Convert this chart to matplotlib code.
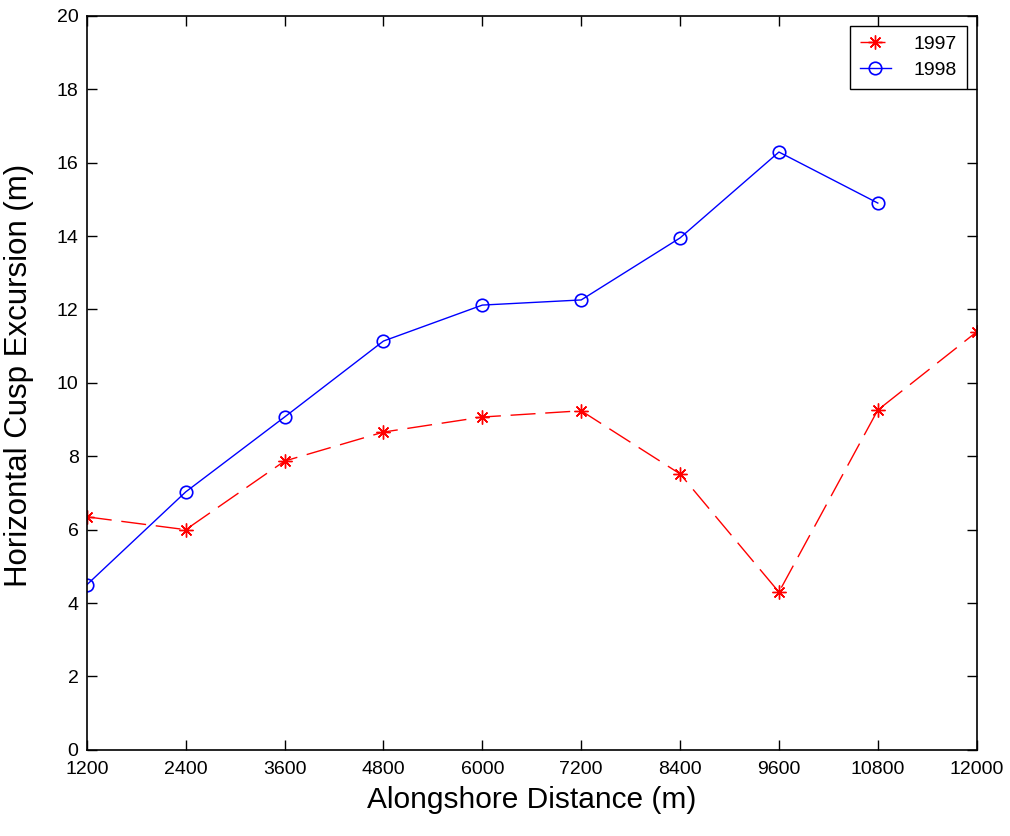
import matplotlib
matplotlib.use("Agg")
import matplotlib.pyplot as plt

# alongshore distance (m)
dist = [1200, 2400, 3600, 4800, 6000, 7200, 8400, 9600, 10800, 12000]
# horizontal cusp excursion (m)
exc_1997 = [6.35, 6.0, 7.87, 8.66, 9.07, 9.24, 7.52, 4.3, 9.26, 11.39]
exc_1998 = [4.5, 7.03, 9.07, 11.14, 12.12, 12.26, 13.95, 16.29, 14.9]

plt.rcParams['font.family'] = ['Liberation Sans', 'DejaVu Sans']

fig = plt.figure(figsize=(10.10, 8.36), dpi=100)
ax = fig.add_axes([0.086, 0.103, 0.881, 0.878])

ax.plot(dist, exc_1997, color='red', linestyle=(0, (18, 7)), lw=1,
        marker=(8, 2, 0), markersize=10, markeredgewidth=1, label='1997')
ax.plot(dist[:len(exc_1998)], exc_1998, color='blue', lw=1,
        marker='o', markersize=9, fillstyle='none', markeredgewidth=1.2, label='1998')

ax.set_xlim(1200, 12000)
ax.set_ylim(0, 20)
ax.set_xticks(dist)
ax.set_yticks(range(0, 21, 2))
ax.tick_params(direction='in', length=7, width=1, top=True, right=True,
               labelsize=14)
ax.tick_params(axis='x', pad=8)
ax.tick_params(axis='y', pad=6)
for s in ax.spines.values():
    s.set_linewidth(1.2)

ax.set_xlabel('Alongshore Distance (m)', fontsize=21.5, labelpad=6)
ax.set_ylabel('Horizontal Cusp Excursion (m)', fontsize=22.5)
ax.yaxis.set_label_coords(-0.059, 0.51)

leg = ax.legend(loc='upper right', fontsize=14, fancybox=False, framealpha=1,
                edgecolor='black', borderaxespad=0.5, handlelength=1.6,
                handletextpad=1.2, borderpad=0.5, labelspacing=0.45)
leg.get_frame().set_linewidth(1)

fig.savefig('out.png', dpi=100)
